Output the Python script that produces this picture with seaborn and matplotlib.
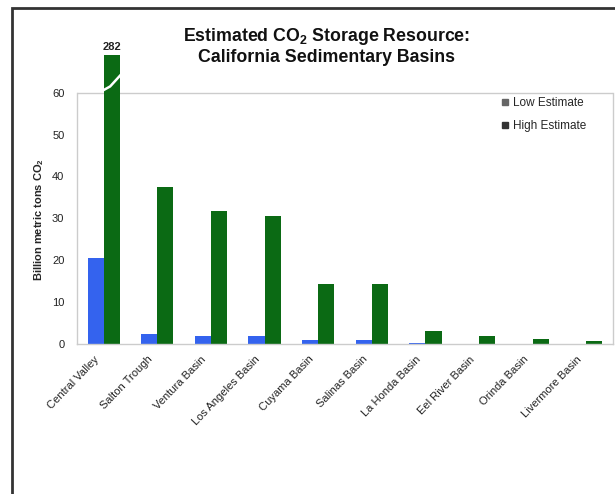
import matplotlib
matplotlib.use("Agg")
import matplotlib.pyplot as plt
from matplotlib.patches import Rectangle
from matplotlib.lines import Line2D
from matplotlib.transforms import ScaledTranslation
import seaborn as sns
import pandas as pd

basins = ["Central Valley", "Salton Trough", "Ventura Basin", "Los Angeles Basin",
          "Cuyama Basin", "Salinas Basin", "La Honda Basin", "Eel River Basin",
          "Orinda Basin", "Livermore Basin"]
low_estimate = [20.5, 2.5, 2.0, 2.0, 1.0, 1.0, 0.2, 0.1, 0.1, 0.0]
high_estimate = [282, 37.5, 31.8, 30.5, 14.3, 14.3, 3.0, 2.0, 1.1, 0.8]
series_names = ["Low Estimate", "High Estimate"]
y_ticks = [0, 10, 20, 30, 40, 50, 60]

df = pd.DataFrame({
    "Basin": basins * 2,
    "Value": low_estimate + high_estimate,
    "Series": [series_names[0]] * len(basins) + [series_names[1]] * len(basins),
})

sns.set_style("white")
plt.rcParams["font.family"] = ["Liberation Sans", "DejaVu Sans"]
plt.rcParams["mathtext.fontset"] = "custom"
plt.rcParams["mathtext.rm"] = "Liberation Sans"
plt.rcParams["mathtext.bf"] = "Liberation Sans:bold"

fig = plt.figure(figsize=(6.15, 4.94), dpi=100)
ax = fig.add_axes([0.125, 0.3036, 0.872, 0.585])

colors = {"Low Estimate": "#3463EE", "High Estimate": "#0B6A14"}
sns.barplot(data=df, x="Basin", y="Value", hue="Series", palette=colors,
            width=0.6, ax=ax, legend=False, saturation=1, linewidth=0)

ax.set_ylim(0, 69)
ax.set_xlim(-0.5, 9.5)
ax.set_yticks(y_ticks)
ax.set_yticklabels([str(t) for t in y_ticks], fontsize=8, color="#222222")
ax.tick_params(axis="y", length=0, pad=9)
ax.tick_params(axis="x", length=0, pad=3)
ax.set_xticks(range(len(basins)))
ax.set_xticklabels(basins, rotation=46, ha="right", rotation_mode="anchor",
                   fontsize=8, color="#222222")
offset = ScaledTranslation(-10 / 100, -6 / 100, fig.dpi_scale_trans)
for lbl in ax.get_xticklabels():
    lbl.set_transform(lbl.get_transform() + offset)
ax.set_xlabel("")
ax.set_ylabel(r"Billion metric tons CO$_\mathbf{2}$", fontsize=8, fontweight="bold")
ax.yaxis.set_label_coords(-0.058, 0.43)

for side in ["left", "right", "bottom"]:
    ax.spines[side].set_color("#CCCCCC")
    ax.spines[side].set_linewidth(1)
ax.spines["left"].set_bounds(0, 60)
ax.spines["right"].set_bounds(0, 60)
ax.spines["top"].set_visible(False)
ax.axhline(60, color="#CCCCCC", lw=1, zorder=0)

# label for truncated bar and break mark
cv_high = ax.patches[len(basins)]
cx = cv_high.get_x() + cv_high.get_width() / 2
ax.text(cx, 69.8, str(high_estimate[0]), ha="center", va="bottom",
        fontsize=8, fontweight="bold", color="#222222")
x0 = cv_high.get_x()
x1 = cv_high.get_x() + cv_high.get_width()
ax.plot([x0 - 0.02, x0 + 0.12, x1 + 0.02], [60.5, 61.5, 64.3],
        color="white", lw=1.8, solid_capstyle="round", zorder=5)

handles = [Line2D([], [], marker="s", ls="", markersize=4, color="#666666"),
           Line2D([], [], marker="s", ls="", markersize=4, color="#333333")]
ax.legend(handles, series_names, loc="upper left", bbox_to_anchor=(0.78, 0.87),
          frameon=False, fontsize=8.5, handletextpad=0.3, labelspacing=0.9,
          handlelength=0.8, borderaxespad=0)

fig.text(0.531, 0.927, r"Estimated CO$_\mathbf{2}$ Storage Resource:", ha="center",
         va="center", fontsize=12.8, fontweight="bold", color="#111111")
fig.text(0.531, 0.884, "California Sedimentary Basins", ha="center", va="center",
         fontsize=12.8, fontweight="bold", color="#111111")

fig.add_artist(Rectangle((12 / 615, -0.1), 1.2, 1.1 - 8 / 494,
                         transform=fig.transFigure, fill=False,
                         edgecolor="#333333", lw=2, clip_on=False))

fig.savefig("out.png", dpi=100)
